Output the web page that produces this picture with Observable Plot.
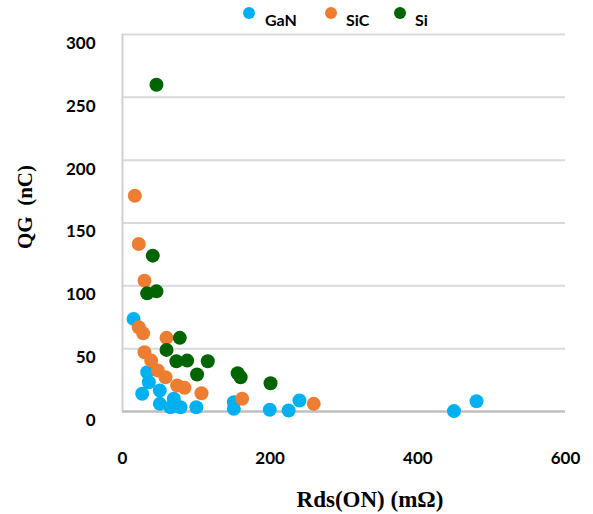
<!DOCTYPE html>
<html>
<head>
<meta charset="utf-8">
<script src="https://cdn.jsdelivr.net/npm/d3@7"></script>
<script src="https://cdn.jsdelivr.net/npm/@observablehq/plot@0.6"></script>
<style>
  body { margin: 0; background: #fff; }
  #wrap { position: relative; width: 593px; height: 514px; font-family: Lato, "Open Sans", sans-serif; }
  .leg { position: absolute; font-weight: bold; font-size: 16px; color: #000; }
  .dot { position: absolute; width: 12px; height: 12px; border-radius: 50%; }
  #chart { position: absolute; left: 0; top: 30px; }
</style>
</head>
<body>
<div id="wrap">
  <div id="legend"></div>
  <div id="chart"></div>
</div>
<script>
const seriesNames = ["GaN", "SiC", "Si"];
const seriesColors = ["#00B0F0", "#ED7D31", "#006400"];

const ganX = [15, 33.5, 35.6, 26.7, 50.5, 50.5, 69.5, 65, 78.6, 100, 150.8, 150.8, 199.5, 225, 239.7, 449, 479.5];
const ganY = [73.7, 31.2, 23.3, 14.1, 16.7, 6.1, 10.1, 3.4, 3.4, 3.4, 7.4, 2.1, 1.4, 0.8, 8.7, 0.3, 8.2];

const sicX = [16.7, 22, 29.8, 22, 28, 59.6, 29.8, 38.9, 47.8, 58.2, 74, 84, 107, 162, 259];
const sicY = [171.7, 133.3, 104.1, 67, 62.2, 58.6, 47.1, 40.5, 32.6, 27.3, 20.7, 18.8, 14.5, 10.1, 6.1];

const siX = [46, 41, 33.4, 46, 77.6, 59.6, 73, 87.6, 115.5, 101, 156, 160, 200.5];
const siY = [260, 124, 94, 95.6, 58.6, 49, 40, 40.5, 40, 29.4, 30.4, 27.3, 22.5];

const xTicks = [0, 200, 400, 600];
const yTicks = [0, 50, 100, 150, 200, 250, 300];
const xTitle = "Rds(ON) (mΩ)";
const yTitle = "QG  (nC)";

const rows = [];
[[ganX, ganY], [sicX, sicY], [siX, siY]].forEach(([xs, ys], i) => {
  xs.forEach((x, j) => rows.push({series: seriesNames[i], x, y: ys[j]}));
});

// legend
const legPos = [{dot: 243, text: 265}, {dot: 325, text: 346}, {dot: 394, text: 415}];
const legend = document.getElementById("legend");
seriesNames.forEach((name, i) => {
  const d = document.createElement("div");
  d.className = "dot";
  d.style.left = legPos[i].dot + "px";
  d.style.top = "7px";
  d.style.background = seriesColors[i];
  legend.appendChild(d);
  const t = document.createElement("div");
  t.className = "leg";
  t.style.left = legPos[i].text + "px";
  t.style.top = "10px";
  t.textContent = name;
  legend.appendChild(t);
});

const chart = Plot.plot({
  width: 593,
  height: 484,
  marginLeft: 122,
  marginRight: 28,
  marginTop: 4,
  marginBottom: 103,
  style: {fontFamily: "Lato, 'Open Sans', sans-serif", background: "#fff"},
  x: {domain: [0, 600]},
  y: {domain: [0, 300]},
  color: {domain: seriesNames, range: seriesColors},
  marks: [
    Plot.gridY(yTicks.filter(d => d > 0), {stroke: "#d9d9d9", strokeOpacity: 1, strokeWidth: 2}),
    Plot.ruleX([0], {stroke: "#d0d0d0", strokeWidth: 2}),
    Plot.ruleY([0], {stroke: "#bfbfbf", strokeWidth: 2.5}),
    Plot.axisY({ticks: yTicks, tickSize: 0, tickPadding: 27, dy: 9, label: null, fontSize: 17, fontWeight: "bold", fill: "#000"}),
    Plot.axisX({ticks: xTicks, tickSize: 0, tickPadding: 40, label: null, fontSize: 17, fontWeight: "bold", fill: "#000"}),
    Plot.dot(rows, {x: "x", y: "y", fill: "series", r: 7, stroke: "none"}),
    Plot.text([xTitle], {frameAnchor: "bottom", dx: 26, dy: 95, lineAnchor: "bottom", fontSize: 23, fontWeight: "bold", fontFamily: "'Liberation Serif', serif", fill: "#000"}),
    Plot.text([yTitle], {frameAnchor: "left", dx: -97, dy: 26, rotate: -90, fontSize: 21, fontWeight: "bold", fontFamily: "'Liberation Serif', serif", fill: "#000"})
  ]
});
document.getElementById("chart").appendChild(chart);
</script>
</body>
</html>
